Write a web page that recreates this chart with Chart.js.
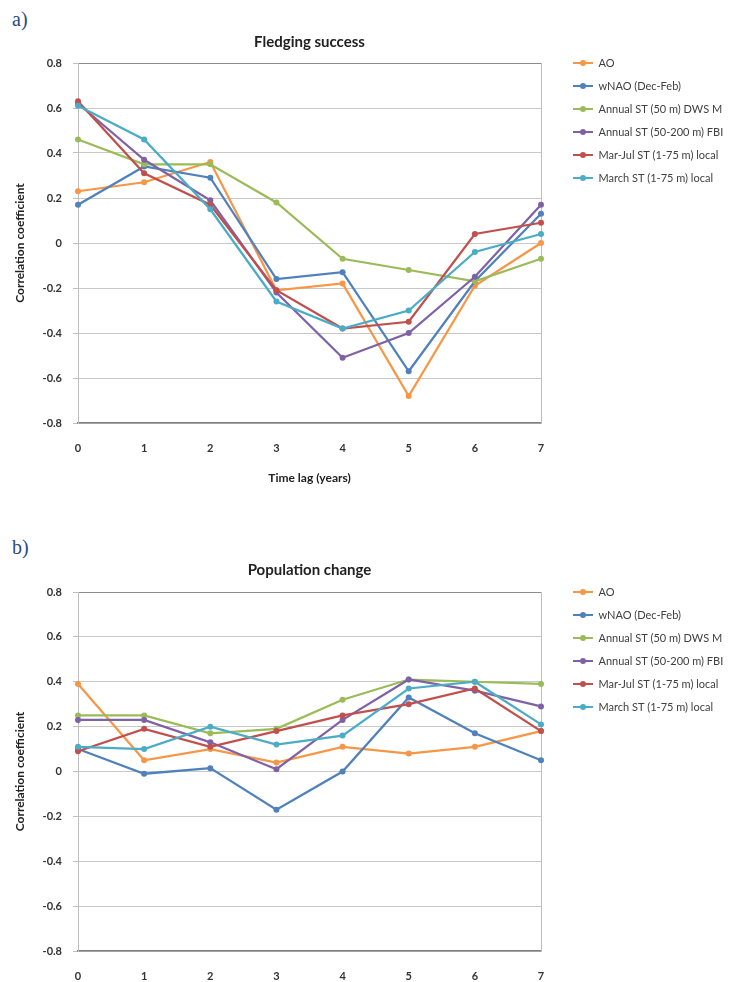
<!DOCTYPE html>
<html lang="en">
<head>
<meta charset="utf-8">
<title>Fledging success / Population change</title>
<script src="https://cdn.jsdelivr.net/npm/chart.js@4.4.1/dist/chart.umd.min.js"></script>
<style>
  html, body { margin: 0; padding: 0; background: #fff; }
  body { width: 746px; height: 982px; position: relative; overflow: hidden; }
  .painel { position: absolute; left: 0; width: 746px; }
  .letra { position: absolute; left: 12px; font: 20px 'Liberation Serif', 'DejaVu Serif', serif; line-height: 24px; color: #2b4a80; }
</style>
</head>
<body>
<div class="letra" style="top:7px">a)</div>
<div class="painel" style="top:0;height:500px"><canvas id="grafico-fledging"></canvas></div>
<div class="letra" style="top:535px">b)</div>
<div class="painel" style="top:500px;height:482px"><canvas id="grafico-populacao"></canvas></div>

<script>
const LAGS = ['0', '1', '2', '3', '4', '5', '6', '7'];
const NOMES_SERIES = [
  'AO',
  'wNAO (Dec-Feb)',
  'Annual ST (50 m) DWS M',
  'Annual ST (50-200 m) FBI',
  'Mar-Jul ST (1-75 m) local',
  'March ST (1-75 m) local',
];
const CORES_SERIES = ['#f79646', '#4f81bd', '#9bbb59', '#7f62a6', '#c0504d', '#4bacc6'];

const Y_MIN = -0.8;
const Y_MAX = 0.8;
const Y_PASSO = 0.2;

// a) Fledging success
const fledgingAO = [0.23, 0.27, 0.36, -0.21, -0.18, -0.68, -0.19, 0.00];
const fledgingWNAO = [0.17, 0.34, 0.29, -0.16, -0.13, -0.57, -0.17, 0.13];
const fledgingST50 = [0.46, 0.35, 0.35, 0.18, -0.07, -0.12, -0.17, -0.07];
const fledgingST50200 = [0.62, 0.37, 0.19, -0.22, -0.51, -0.40, -0.15, 0.17];
const fledgingMarJul = [0.63, 0.31, 0.17, -0.21, -0.38, -0.35, 0.04, 0.09];
const fledgingMarco = [0.61, 0.46, 0.15, -0.26, -0.38, -0.30, -0.04, 0.04];

// b) Population change
const populacaoAO = [0.39, 0.05, 0.10, 0.04, 0.11, 0.08, 0.11, 0.18];
const populacaoWNAO = [0.10, -0.01, 0.015, -0.17, 0.00, 0.33, 0.17, 0.05];
const populacaoST50 = [0.25, 0.25, 0.17, 0.19, 0.32, 0.41, 0.40, 0.39];
const populacaoST50200 = [0.23, 0.23, 0.13, 0.01, 0.23, 0.41, 0.36, 0.29];
const populacaoMarJul = [0.09, 0.19, 0.11, 0.18, 0.25, 0.30, 0.37, 0.18];
const populacaoMarco = [0.11, 0.10, 0.20, 0.12, 0.16, 0.37, 0.40, 0.21];

const FONTE = 'Lato, "Open Sans", "Liberation Sans", sans-serif';
const FONTE_LEGENDA = 11;
const ESPACO_LEGENDA = 12;

function criarMarcador(cor) {
  const c = document.createElement('canvas');
  c.width = 20;
  c.height = 8;
  const ctx = c.getContext('2d');
  ctx.strokeStyle = cor;
  ctx.lineWidth = 2;
  ctx.beginPath();
  ctx.moveTo(0, 4);
  ctx.lineTo(20, 4);
  ctx.stroke();
  ctx.fillStyle = cor;
  ctx.beginPath();
  ctx.arc(10, 4, 3, 0, Math.PI * 2);
  ctx.fill();
  return c;
}
const MARCADORES_LEGENDA = CORES_SERIES.map(criarMarcador);

// legenda alinhada ao topo da area do grafico, como no Excel
const ajustarLegenda = {
  id: 'ajustarLegenda',
  afterLayout(chart) {
    const legenda = chart.legend;
    const altura = legenda.bottom - legenda.top;
    legenda.top = chart.chartArea.top - ESPACO_LEGENDA - FONTE_LEGENDA / 2;
    legenda.bottom = legenda.top + altura;
    legenda.right = chart.width;
    legenda.width = legenda.right - legenda.left;
  },
};

function formatarTick(v) {
  return String(Number(Number(v).toFixed(1)));
}

function criarGrafico(idCanvas, titulo, series, cfg) {
  return new Chart(document.getElementById(idCanvas), {
    type: 'line',
    data: {
      labels: LAGS,
      datasets: series.map((dados, i) => ({
        label: NOMES_SERIES[i],
        data: dados,
        borderColor: CORES_SERIES[i],
        backgroundColor: CORES_SERIES[i],
        borderWidth: 2.25,
        pointRadius: 3,
        pointBorderWidth: 0,
        tension: 0,
        order: series.length - i,
      })),
    },
    options: {
      responsive: true,
      maintainAspectRatio: false,
      animation: false,
      events: [],
      layout: { padding: { top: 0, left: 0, right: 40, bottom: 0 } },
      plugins: {
        title: {
          display: true,
          text: titulo,
          fullSize: false,
          color: '#222',
          font: { family: FONTE, size: 15, weight: 'bold' },
          padding: { top: cfg.tituloTopo, bottom: cfg.tituloBaixo },
        },
        legend: {
          position: 'right',
          align: 'start',
          maxWidth: 145,
          labels: {
            usePointStyle: true,
            pointStyleWidth: 20,
            padding: ESPACO_LEGENDA,
            color: '#404040',
            font: { family: FONTE, size: FONTE_LEGENDA },
            sort: (a, b) => a.datasetIndex - b.datasetIndex,
            generateLabels: (chart) => Chart.defaults.plugins.legend.labels.generateLabels(chart)
              .map((item) => ({ ...item, pointStyle: MARCADORES_LEGENDA[item.datasetIndex] })),
          },
        },
        tooltip: { enabled: false },
      },
      scales: {
        x: {
          type: 'category',
          offset: false,
          grid: { display: false, drawTicks: false },
          border: { display: true, color: '#7f7f7f', width: 1.5 },
          ticks: {
            color: '#333',
            padding: 19,
            maxRotation: 0,
            font: { family: FONTE, size: 11, weight: 'bold' },
          },
          title: {
            display: cfg.mostrarTituloX,
            text: 'Time lag (years)',
            color: '#222',
            font: { family: FONTE, size: 12, weight: 'bold' },
            padding: { top: 0, bottom: 15 },
          },
          afterFit: (scale) => { scale.height = cfg.alturaX; },
        },
        y: {
          min: Y_MIN,
          max: Y_MAX,
          grid: {
            color: (ctx) => (ctx.tick && ctx.tick.value > Y_MAX - 1e-6 ? '#8c8c8c' : '#c8c8c8'),
            tickColor: '#bfbfbf',
            tickLength: 5,
          },
          border: { display: true, color: '#bfbfbf' },
          ticks: {
            stepSize: Y_PASSO,
            color: '#333',
            padding: 11,
            font: { family: FONTE, size: 11, weight: 'bold' },
            callback: formatarTick,
          },
          title: {
            display: true,
            text: 'Correlation coefficient',
            color: '#222',
            font: { family: FONTE, size: 12, weight: 'bold' },
            padding: { top: 13, bottom: 0 },
          },
          afterFit: (scale) => { scale.width = 78; },
        },
        borda: {
          type: 'linear',
          position: 'right',
          grid: { display: false },
          border: { display: true, color: '#bfbfbf' },
          ticks: { display: false },
          afterFit: (scale) => { scale.width = 20; },
        },
      },
    },
    plugins: [ajustarLegenda],
  });
}

criarGrafico('grafico-fledging', 'Fledging success',
  [fledgingAO, fledgingWNAO, fledgingST50, fledgingST50200, fledgingMarJul, fledgingMarco],
  { tituloTopo: 33, tituloBaixo: 12, alturaX: 77, mostrarTituloX: true });

criarGrafico('grafico-populacao', 'Population change',
  [populacaoAO, populacaoWNAO, populacaoST50, populacaoST50200, populacaoMarJul, populacaoMarco],
  { tituloTopo: 61, tituloBaixo: 13, alturaX: 31, mostrarTituloX: false });
</script>
</body>
</html>
